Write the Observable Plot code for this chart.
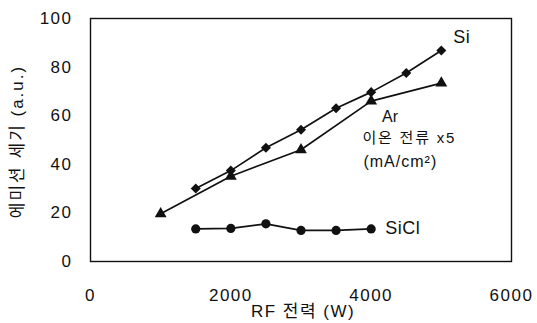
<!DOCTYPE html>
<html><head><meta charset="utf-8">
<script src="https://cdn.jsdelivr.net/npm/d3@7"></script>
<script src="https://cdn.jsdelivr.net/npm/@observablehq/plot@0.6"></script>
<style>
body{margin:0;background:#fff;}
svg{font-family:"Liberation Sans","Noto Sans CJK KR",sans-serif;}
</style></head><body><div id="c"></div>
<script>
const siX = [1500, 2000, 2500, 3000, 3500, 4000, 4500, 5000];
const siY = [30, 37.4, 46.8, 54.2, 63.1, 69.7, 77.6, 86.8];
const arX = [1000, 2000, 3000, 4000, 5000];
const arY = [19.6, 35.1, 46, 66, 73.4];
const siclX = [1500, 2000, 2500, 3000, 3500, 4000];
const siclY = [13.4, 13.6, 15.5, 12.8, 12.8, 13.4];
const xTicks = [0, 2000, 4000, 6000];
const yTicks = [0, 20, 40, 60, 80, 100];
const xTitle = "RF 전력 (W)";
const yTitle = "에미션 세기 (a.u.)";
const labels = [
  {x: 5170, y: 92.2, t: "Si"},
  {x: 4155, y: 59.7, t: "Ar"},
  {x: 3875, y: 50.6, t: "이온 전류 x5"},
  {x: 3890, y: 41.2, t: "(mA/cm²)"},
  {x: 4200, y: 13.6, t: "SiCl"}
];
const textStyle = {
  "Si": [18, 0.5], "Ar": [16, 0], "이온 전류 x5": [15, 1.8], "(mA/cm²)": [16, 1],
  "SiCl": [18, 0.5], [xTitle]: [17, 1.5], [yTitle]: [17, 2]
};
const si = siX.map((x,i)=>({x, y: siY[i]}));
const ar = arX.map((x,i)=>({x, y: arY[i]}));
const sicl = siclX.map((x,i)=>({x, y: siclY[i]}));
const chart = Plot.plot({
  width: 537, height: 323,
  marginLeft: 90, marginRight: 26, marginTop: 18, marginBottom: 62,
  style: {fontSize: "17px", color: "#111", fontFamily: "'Liberation Sans','Noto Sans CJK KR',sans-serif"},
  x: {domain: [0, 6000], ticks: xTicks, tickSize: 0, tickPadding: 27, tickFormat: d => String(d), label: null},
  y: {domain: [0, 100], ticks: yTicks, tickSize: 0, tickPadding: 18, label: null},
  marks: [
    Plot.frame({stroke: "#111", strokeWidth: 1.4}),
    Plot.line(si, {x: "x", y: "y", stroke: "#111", strokeWidth: 1.7}),
    Plot.dot(si, {x: "x", y: "y", symbol: "square", rotate: 45, fill: "#111", r: 4}),
    Plot.line(ar, {x: "x", y: "y", stroke: "#111", strokeWidth: 1.7}),
    Plot.dot(ar, {x: "x", y: "y", symbol: "triangle", fill: "#111", r: 4.4}),
    Plot.line(sicl, {x: "x", y: "y", stroke: "#111", strokeWidth: 1.7}),
    Plot.dot(sicl, {x: "x", y: "y", symbol: "circle", fill: "#111", r: 4.6}),
    Plot.text(labels, {x: "x", y: "y", text: "t", textAnchor: "start", fill: "#111"}),
    Plot.text([xTitle], {frameAnchor: "bottom", textAnchor: "middle", lineAnchor: "middle", dx: 2, dy: 50, fill: "#111"}),
    Plot.text([yTitle], {frameAnchor: "left", textAnchor: "middle", lineAnchor: "middle", dx: -73, dy: 1.5, rotate: -90, fill: "#111"})
  ]
});
chart.querySelectorAll("g[aria-label$='tick label'] text").forEach(t => t.style.letterSpacing = "1.5px");
chart.querySelectorAll("text").forEach(t => {
  const s = textStyle[t.textContent];
  if (s) { t.setAttribute("font-size", s[0]); t.style.fontSize = s[0] + "px"; t.style.letterSpacing = s[1] + "px"; }
});
document.getElementById("c").appendChild(chart);
</script></body></html>
